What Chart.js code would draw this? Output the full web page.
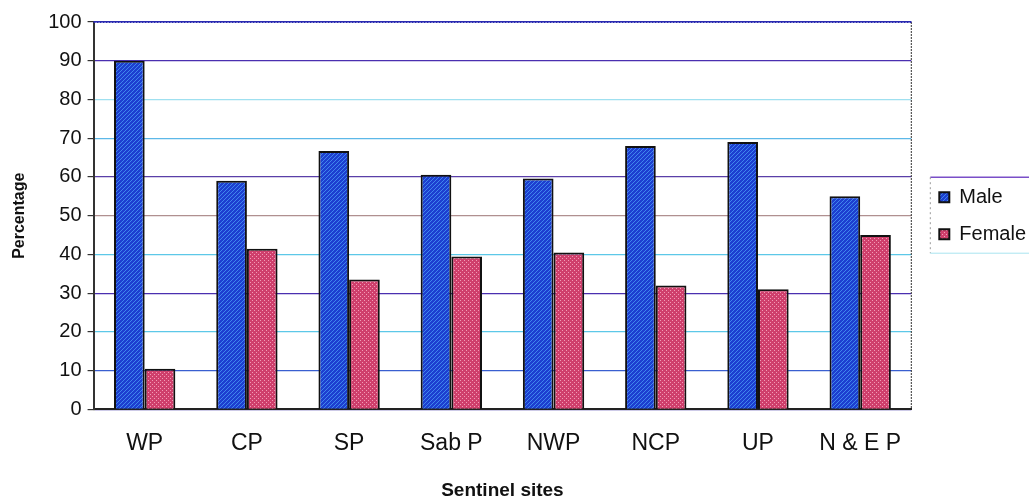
<!DOCTYPE html>
<html>
<head>
<meta charset="utf-8">
<script src="https://cdn.jsdelivr.net/npm/chart.js@4.4.0/dist/chart.umd.min.js"></script>
<style>
  html, body { margin: 0; padding: 0; background: #fff; }
</style>
</head>
<body>
<canvas id="chart" width="1029" height="500"></canvas>
<script>
// data
const sites = ['WP', 'CP', 'SP', 'Sab P', 'NWP', 'NCP', 'UP', 'N & E P'];
const male = [90, 59, 66.7, 60.6, 59.6, 68, 69, 55];
const female = [10.5, 41.5, 33.5, 39.5, 40.5, 32, 31, 45];
const yTicks = [0, 10, 20, 30, 40, 50, 60, 70, 80, 90, 100];

// hatched fills like the scanned chart
function makePattern(base, stripe, kind) {
  const c = document.createElement('canvas');
  c.width = 4; c.height = 4;
  const g = c.getContext('2d');
  g.fillStyle = base;
  g.fillRect(0, 0, 4, 4);
  if (kind === 'diag') {
    g.strokeStyle = stripe;
    g.lineWidth = 1;
    g.beginPath();
    g.moveTo(0, 4); g.lineTo(4, 0);
    g.moveTo(-2, 2); g.lineTo(2, -2);
    g.moveTo(2, 6); g.lineTo(6, 2);
    g.stroke();
  } else {
    g.fillStyle = stripe;
    g.fillRect(0, 0, 1, 1);
    g.fillRect(2, 2, 1, 1);
  }
  return g.createPattern(c, 'repeat');
}

const blueFill = makePattern('#1d3fd0', '#3f86ec', 'diag');
const pinkFill = makePattern('#cf3f6c', '#f29bb6', 'dots');

// grid line colours vary in the scan
const gridColors = {0: '#3a2fa0', 10: '#3a5fd0', 20: '#5cc8e8', 30: '#4a2fb0', 40: '#5cc8e8',
  50: '#b09090', 60: '#5a3fa8', 70: '#5cb8e8', 80: '#9fe0f0', 90: '#4a2fb0', 100: '#2a2ab0'};

// legend sits a bit further from the plot than chart.js puts it
const legendExtraW = 4;
const legendShift = 11;

const legendBox = {
  id: 'legendBox',
  afterInit(chart) {
    const lg = chart.legend;
    const fit = lg.fit.bind(lg);
    lg.fit = function() { fit(); this.width += legendExtraW; };
  },
  afterLayout(chart) {
    chart.legend.left += legendShift;
  },
  afterDraw(chart) {
    const hb = chart.legend.legendHitBoxes;
    if (!hb || !hb.length) return;
    const ctx = chart.ctx;
    const x0 = hb[0].left - 9;
    const x1 = chart.width;
    const y0 = hb[0].top - 10;
    const y1 = hb[hb.length - 1].top + hb[hb.length - 1].height + 9;
    ctx.save();
    ctx.strokeStyle = '#7a4fc8';
    ctx.lineWidth = 1.5;
    ctx.beginPath();
    ctx.moveTo(x0, y0); ctx.lineTo(x1, y0);
    ctx.stroke();
    ctx.strokeStyle = '#999';
    ctx.lineWidth = 1;
    ctx.setLineDash([2, 3]);
    ctx.beginPath();
    ctx.moveTo(x0, y0); ctx.lineTo(x0, y1);
    ctx.stroke();
    ctx.setLineDash([]);
    ctx.strokeStyle = '#a8e4f0';
    ctx.beginPath();
    ctx.moveTo(x0, y1); ctx.lineTo(x1, y1);
    ctx.stroke();
    ctx.restore();
  }
};

const plotBorder = {
  id: 'plotBorder',
  afterDatasetsDraw(chart) {
    const a = chart.chartArea;
    const ctx = chart.ctx;
    ctx.save();
    ctx.strokeStyle = '#333';
    ctx.lineWidth = 1;
    ctx.setLineDash([2, 1]);
    ctx.beginPath();
    ctx.moveTo(a.right, a.top); ctx.lineTo(a.right, a.bottom);
    ctx.stroke();
    ctx.strokeStyle = '#2a2ab0';
    ctx.lineWidth = 2;
    ctx.beginPath();
    ctx.moveTo(a.left, a.top); ctx.lineTo(a.right, a.top);
    ctx.stroke();
    ctx.restore();
  }
};

new Chart(document.getElementById('chart'), {
  type: 'bar',
  data: {
    labels: sites,
    datasets: [
      { label: 'Male', data: male, backgroundColor: blueFill, borderColor: '#111', borderWidth: 2 },
      { label: 'Female', data: female, backgroundColor: pinkFill, borderColor: '#111', borderWidth: 2 }
    ]
  },
  options: {
    responsive: false,
    animation: false,
    devicePixelRatio: 1,
    categoryPercentage: 0.6,
    barPercentage: 1.0,
    layout: { padding: { top: 22, right: 0, left: 6, bottom: 0 } },
    plugins: {
      legend: {
        position: 'right',
        fullSize: false,
        labels: {
          font: { family: 'Liberation Sans', size: 20 },
          color: '#111',
          boxWidth: 10,
          boxHeight: 10,
          padding: 17
        }
      },
      tooltip: { enabled: false }
    },
    scales: {
      x: {
        grid: { display: false, drawTicks: false },
        border: { color: '#222', width: 2 },
        ticks: { font: { family: 'Liberation Sans', size: 23 }, color: '#111', padding: 20 },
        title: { display: true, text: 'Sentinel sites', font: { family: 'Liberation Sans', size: 19, weight: 'bold', lineHeight: 1 }, color: '#111', padding: { top: 4, bottom: 0 } }
      },
      y: {
        min: 0,
        max: 100,
        afterBuildTicks(axis) { axis.ticks = yTicks.map(v => ({ value: v })); },
        grid: {
          color: ctx => gridColors[ctx.tick ? ctx.tick.value : 0] || '#888',
          lineWidth: 1.2,
          tickLength: 6,
          tickColor: '#333'
        },
        border: { color: '#333', width: 2 },
        ticks: { font: { family: 'Liberation Sans', size: 20 }, color: '#111', padding: 6 },
        title: { display: true, text: 'Percentage', font: { family: 'Liberation Sans', size: 16, weight: 'bold' }, color: '#111', padding: { bottom: 13 } }
      }
    }
  },
  plugins: [legendBox, plotBorder]
});
</script>
</body>
</html>
